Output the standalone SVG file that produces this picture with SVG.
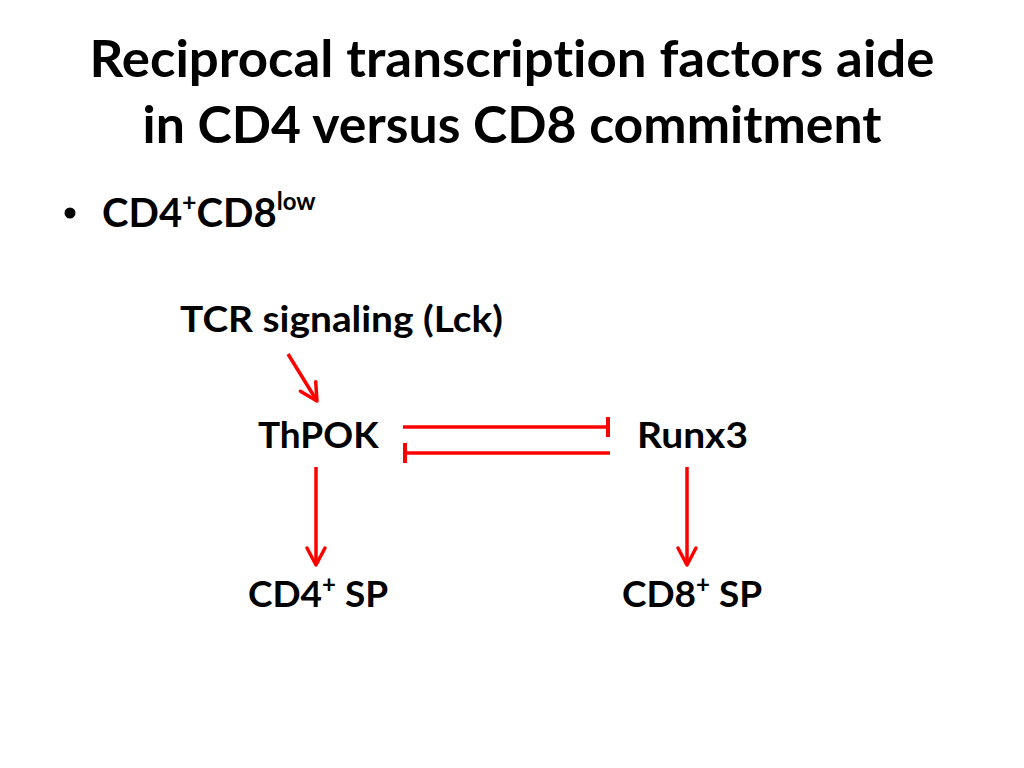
<svg xmlns="http://www.w3.org/2000/svg" width="1024" height="768" viewBox="0 0 1024 768">
<style>
text{font-family:"Lato","Open Sans","Liberation Sans",sans-serif;font-weight:bold;fill:#000;font-variant-ligatures:none}
.title{font-size:52px}
.lbl{font-size:37px}
.edge{stroke:#ff0000;stroke-width:3.5;fill:none}
</style>
<defs>
<marker id="arrow" markerUnits="userSpaceOnUse" viewBox="-20 -12 24 24" refX="0" refY="0" markerWidth="24" markerHeight="24" orient="auto">
<path d="M-17,-9 L0,0 L-17,9" fill="none" stroke="#ff0000" stroke-width="3.5" stroke-linecap="round" stroke-linejoin="round"/>
</marker>
<marker id="bar" markerUnits="userSpaceOnUse" viewBox="-4 -12 8 24" refX="0" refY="0" markerWidth="8" markerHeight="24" orient="auto">
<line x1="0" y1="-10" x2="0" y2="10" stroke="#ff0000" stroke-width="4"/>
</marker>
</defs>
<rect width="1024" height="768" fill="#fff"/>
<g id="title">
<text class="title" x="512" y="77" text-anchor="middle" textLength="845" lengthAdjust="spacingAndGlyphs">Reciprocal transcription factors aide</text>
<text class="title" x="512" y="143" text-anchor="middle" textLength="739" lengthAdjust="spacingAndGlyphs">in CD4 versus CD8 commitment</text>
</g>
<g id="bullet">
<circle cx="70" cy="213" r="5.5" fill="#000"/>
<text class="lbl" x="102" y="227" style="font-size:40px">CD4<tspan dy="-16" style="font-size:25px">+</tspan><tspan dy="16">CD8</tspan><tspan dy="-17" style="font-size:24px">low</tspan></text>
</g>
<g id="tcr"><text class="lbl" x="180" y="332" textLength="323" lengthAdjust="spacingAndGlyphs">TCR signaling (Lck)</text></g>
<g id="thpok"><text class="lbl" x="258" y="448">ThPOK</text></g>
<g id="runx3"><text class="lbl" x="637" y="448" textLength="111" lengthAdjust="spacingAndGlyphs">Runx3</text></g>
<g id="cd4sp"><text class="lbl" x="248" y="607">CD4<tspan dy="-14" style="font-size:24px">+</tspan><tspan dy="14"> SP</tspan></text></g>
<g id="cd8sp"><text class="lbl" x="622" y="607">CD8<tspan dy="-14" style="font-size:24px">+</tspan><tspan dy="14"> SP</tspan></text></g>
<g id="connectors">
<line class="edge" x1="288" y1="354" x2="317" y2="401" marker-end="url(#arrow)"/>
<line class="edge" x1="403" y1="427" x2="608" y2="427" marker-end="url(#bar)"/>
<line class="edge" x1="610" y1="453" x2="405" y2="453" marker-end="url(#bar)"/>
<line class="edge" x1="316" y1="467" x2="316" y2="565" marker-end="url(#arrow)"/>
<line class="edge" x1="687" y1="467" x2="687" y2="565" marker-end="url(#arrow)"/>
</g>
</svg>
